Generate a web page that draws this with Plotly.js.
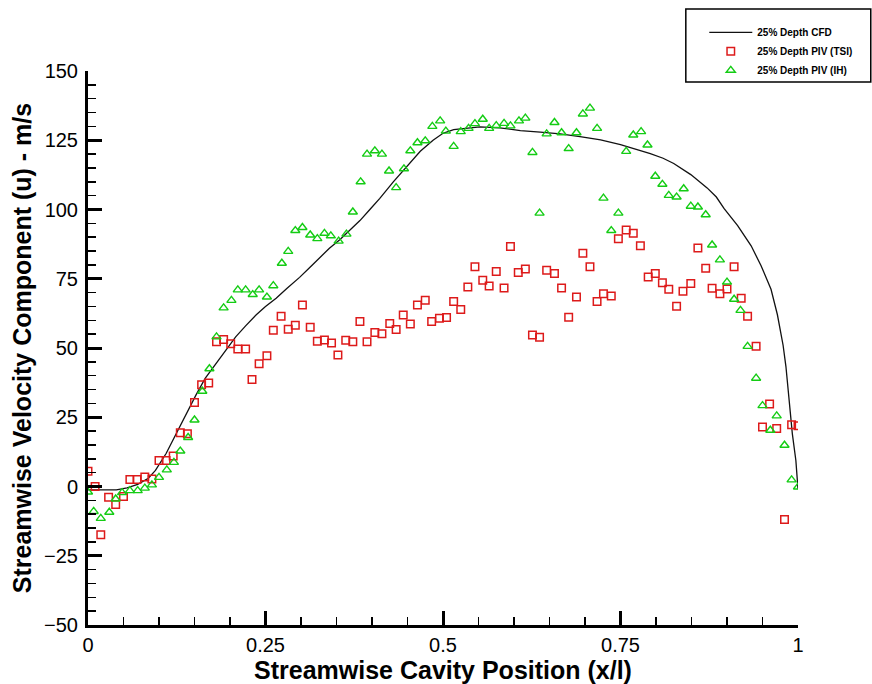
<!DOCTYPE html>
<html>
<head>
<meta charset="utf-8">
<script src="https://cdn.plot.ly/plotly-3.0.1.min.js"></script>
<style>html,body{margin:0;padding:0;background:#fff;}#chart{width:872px;height:684px;}</style>
</head>
<body>
<div id="chart"></div>
<script>
// CFD curve (25% depth)
const cfdX = [0, 0.02, 0.04, 0.055, 0.07, 0.085, 0.095, 0.11, 0.124, 0.138, 0.152, 0.165, 0.175, 0.19, 0.208, 0.222, 0.237, 0.25, 0.265, 0.28, 0.298, 0.312, 0.326, 0.34, 0.355, 0.37, 0.383, 0.397, 0.411, 0.43, 0.449, 0.468, 0.486, 0.5, 0.515, 0.53, 0.552, 0.58, 0.609, 0.637, 0.665, 0.693, 0.722, 0.75, 0.778, 0.792, 0.81, 0.825, 0.849, 0.872, 0.885, 0.896, 0.915, 0.934, 0.948, 0.962, 0.971, 0.979, 0.983, 0.987, 0.992, 0.997, 1.0];
const cfdY = [-1.2, -1.2, -1.2, -0.5, 0.8, 3, 5.8, 11.9, 19, 26, 33, 39, 42.5, 48, 54, 58, 62, 65, 68, 71.5, 75.5, 79, 82.5, 86, 89.2, 92.8, 96, 100, 104, 110, 115.5, 121, 125, 127.5, 128.8, 129.3, 129.8, 129.5, 128.5, 127.9, 127.3, 126.3, 125.1, 123.4, 121.4, 120.2, 118.5, 116.6, 112.6, 107.8, 104.5, 100.3, 94.2, 86.9, 79.7, 71.2, 62, 51, 43.3, 31.2, 19.1, 9.4, -1];

// PIV (TSI) measurements
const tsiX = [0.0, 0.01, 0.018, 0.029, 0.039, 0.05, 0.059, 0.069, 0.08, 0.09, 0.1, 0.11, 0.12, 0.13, 0.14, 0.15, 0.16, 0.17, 0.181, 0.191, 0.201, 0.211, 0.222, 0.231, 0.241, 0.252, 0.261, 0.272, 0.282, 0.292, 0.302, 0.313, 0.323, 0.333, 0.343, 0.352, 0.363, 0.373, 0.383, 0.393, 0.404, 0.414, 0.425, 0.434, 0.444, 0.454, 0.464, 0.475, 0.484, 0.495, 0.505, 0.515, 0.525, 0.535, 0.545, 0.556, 0.565, 0.575, 0.586, 0.595, 0.606, 0.616, 0.626, 0.636, 0.646, 0.657, 0.667, 0.677, 0.688, 0.697, 0.707, 0.717, 0.726, 0.737, 0.747, 0.758, 0.768, 0.778, 0.789, 0.799, 0.809, 0.818, 0.829, 0.838, 0.849, 0.859, 0.87, 0.879, 0.89, 0.9, 0.91, 0.92, 0.929, 0.941, 0.95, 0.96, 0.97, 0.981, 0.991, 1.0];
const tsiY = [5.5, 0, -17.4, -3.9, -6.5, -3.6, 2.5, 2.5, 3.4, 2.7, 9.4, 9.4, 11, 19.4, 19, 30.3, 36.7, 37.4, 52.3, 53.1, 51.5, 49.6, 49.6, 38.6, 44.3, 47.2, 56.4, 61.5, 56.8, 58.2, 65.5, 57.5, 52.4, 52.9, 51.8, 47.5, 52.8, 52.3, 59.6, 52.3, 55.6, 55.1, 58.8, 56.7, 61.9, 58.7, 65.5, 67.2, 59.6, 60.7, 61, 66.8, 63.9, 72, 79.3, 74.5, 72.4, 77.6, 71.7, 86.6, 77.3, 78.5, 54.7, 53.9, 78.1, 76.9, 71.7, 61.1, 68.4, 84.2, 79.3, 66.8, 69.6, 68.8, 89.4, 92.6, 91.4, 86.9, 75.6, 76.9, 73.6, 71.2, 65.1, 70.5, 73.3, 86.1, 78.8, 71.6, 69.6, 71.3, 79.3, 68, 61.5, 50.6, 21.5, 29.8, 20.9, -11.9, 22.3, 21.9];

// PIV (IH) measurements
const ihX = [0.0, 0.008, 0.018, 0.03, 0.039, 0.048, 0.059, 0.07, 0.08, 0.09, 0.1, 0.111, 0.121, 0.13, 0.141, 0.15, 0.161, 0.171, 0.181, 0.191, 0.202, 0.211, 0.222, 0.232, 0.241, 0.252, 0.261, 0.273, 0.282, 0.292, 0.302, 0.313, 0.323, 0.333, 0.342, 0.353, 0.364, 0.373, 0.384, 0.393, 0.404, 0.414, 0.424, 0.434, 0.445, 0.454, 0.464, 0.475, 0.485, 0.496, 0.504, 0.515, 0.525, 0.536, 0.545, 0.556, 0.565, 0.575, 0.586, 0.595, 0.607, 0.616, 0.626, 0.636, 0.646, 0.657, 0.667, 0.677, 0.688, 0.697, 0.707, 0.717, 0.726, 0.737, 0.747, 0.758, 0.768, 0.779, 0.788, 0.799, 0.809, 0.818, 0.829, 0.839, 0.849, 0.859, 0.87, 0.879, 0.89, 0.9, 0.91, 0.919, 0.929, 0.941, 0.95, 0.961, 0.97, 0.981, 0.991, 1.0];
const ihY = [-2, -9, -11.5, -9.3, -4.5, -2.2, -1.5, -1.5, -0.6, 0.6, 3.3, 6, 8.7, 12.8, 17.7, 24, 34.4, 42.5, 54, 64.5, 67.2, 71, 71, 69.3, 71, 68.4, 72.5, 80.6, 84.9, 92.4, 93.5, 90.8, 89.5, 91.4, 90.5, 88.6, 91.1, 99.1, 110, 120, 121.2, 120, 113.9, 107.9, 114.7, 121.2, 124.1, 124.8, 130, 132, 128.3, 122.8, 128.1, 129.3, 131, 132.6, 129.3, 130.3, 131.1, 130.2, 132, 133, 120.6, 98.7, 127.3, 131.4, 127.7, 122, 127.7, 134.5, 136.6, 129.3, 104.1, 92.4, 98.7, 121, 126.9, 128.1, 123.3, 112, 109.1, 105.1, 104.5, 107.5, 101.2, 100.9, 98.1, 87.2, 81.8, 73.8, 67.6, 63.6, 50.6, 39.1, 29.2, 20.3, 25.5, 14.9, 2.4, -0.2];

const seriesNames = ['25% Depth CFD', '25% Depth PIV (TSI)', '25% Depth PIV (IH)'];
const xTitle = 'Streamwise Cavity Position (x/l)';
const yTitle = 'Streamwise Velocity Component (u) - m/s';

const FONT = '"Liberation Sans", Arial, sans-serif';

const traces = [
  {x: cfdX, y: cfdY, type: 'scatter', mode: 'lines', name: seriesNames[0],
   line: {color: '#111111', width: 1.3}},
  {x: tsiX, y: tsiY, type: 'scatter', mode: 'markers', name: seriesNames[1],
   marker: {symbol: 'square-open', size: 7.5, color: '#dd1a1a', line: {width: 1.5, color: '#dd1a1a'}}},
  {x: ihX, y: ihY, type: 'scatter', mode: 'markers', name: seriesNames[2],
   marker: {symbol: 'triangle-up-open', size: 8, color: '#14cc14', line: {width: 1.4, color: '#14cc14'}}}
];

const layout = {
  width: 872, height: 684,
  margin: {l: 88, r: 74, t: 71, b: 59, pad: 0},
  paper_bgcolor: '#ffffff', plot_bgcolor: '#ffffff',
  font: {family: FONT, color: '#000'},
  showlegend: true,
  legend: {
    x: 0.868, y: 1.096, xanchor: 'left', yanchor: 'top',
    bgcolor: 'rgba(0,0,0,0)', borderwidth: 0,
    itemwidth: 43,
    font: {family: FONT, size: 10, color: '#000', weight: 'bold'}
  },
  shapes: [
    {type: 'rect', xref: 'paper', yref: 'paper', x0: 0.842, x1: 1.1025, y0: 0.980, y1: 1.112,
     line: {color: '#000', width: 1.5}, fillcolor: 'rgba(0,0,0,0)'}
  ],
  xaxis: {
    range: [0, 1], dtick: 0.25, tick0: 0,
    showgrid: false, zeroline: false,
    showline: true, linecolor: '#000', linewidth: 3,
    ticks: 'inside', ticklen: 14, tickwidth: 3, tickcolor: '#000',
    minor: {dtick: 0.05, ticks: 'inside', ticklen: 8, tickwidth: 1.5, tickcolor: '#000', showgrid: false},
    tickfont: {family: FONT, size: 20, color: '#000'},
    ticklabelstandoff: 0,
    title: {text: xTitle, font: {family: FONT, size: 25, color: '#000', weight: 'bold'}, standoff: 1},
    automargin: false
  },
  yaxis: {
    range: [-50, 150], dtick: 25, tick0: 0,
    showgrid: false, zeroline: false,
    showline: true, linecolor: '#000', linewidth: 3,
    ticks: 'inside', ticklen: 14, tickwidth: 3, tickcolor: '#000',
    minor: {dtick: 5, ticks: 'inside', ticklen: 8, tickwidth: 1.5, tickcolor: '#000', showgrid: false},
    tickfont: {family: FONT, size: 20, color: '#000'},
    ticklabelstandoff: 3,
    title: {text: yTitle, font: {family: FONT, size: 25, color: '#000', weight: 'bold'}, standoff: 6},
    automargin: false
  }
};

Plotly.newPlot('chart', traces, layout, {displayModeBar: false, staticPlot: true});
</script>
</body>
</html>
